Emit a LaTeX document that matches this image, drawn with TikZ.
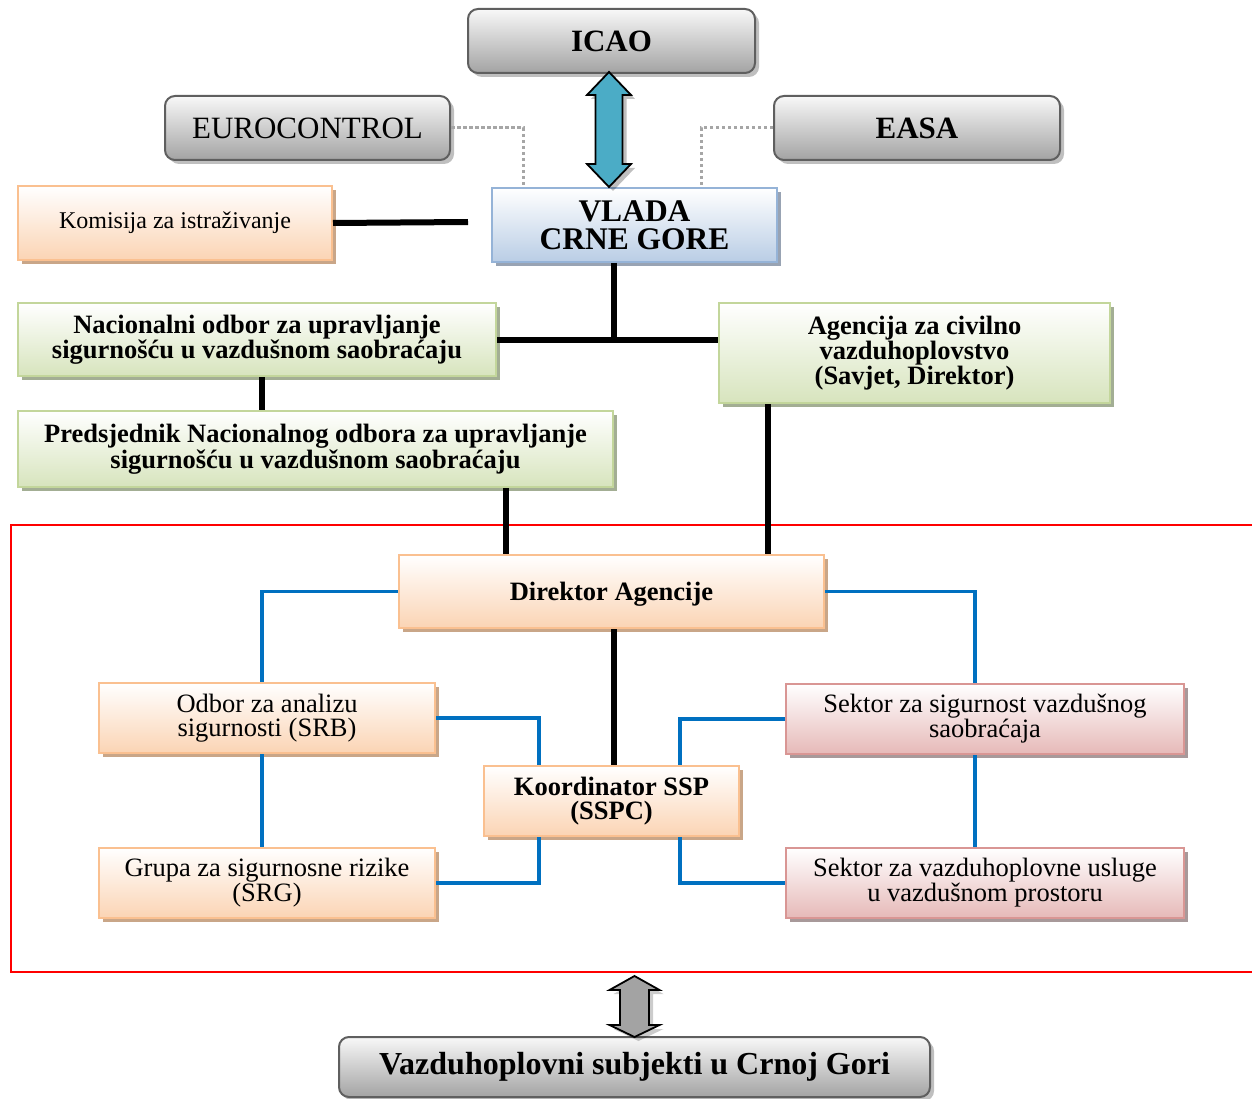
\documentclass[tikz,border=0pt]{standalone}
\usepackage{fontspec}
\setmainfont{Liberation Serif}
\usetikzlibrary{shadows,calc}
\definecolor{orF}{HTML}{FBD4B4}
\definecolor{orB}{HTML}{FAC090}
\definecolor{orS}{HTML}{C9A688}
\definecolor{grF}{HTML}{D7E4BD}
\definecolor{grB}{HTML}{C3D69B}
\definecolor{grS}{HTML}{A3AE94}
\definecolor{blF}{HTML}{B9CDE5}
\definecolor{blB}{HTML}{95B3D7}
\definecolor{blS}{HTML}{98A3B3}
\definecolor{pkF}{HTML}{E6B9B8}
\definecolor{pkB}{HTML}{D99694}
\definecolor{pkS}{HTML}{A8999A}
\definecolor{gyF}{HTML}{A3A3A3}
\definecolor{gyT}{HTML}{F8F8F8}
\definecolor{gyB}{HTML}{5F5F5F}
\definecolor{lnBlue}{HTML}{0070C0}
\definecolor{arBlue}{HTML}{4BACC6}
\definecolor{dotGray}{HTML}{A6A6A6}
\definecolor{frameRed}{HTML}{FF0000}
\tikzset{
  box/.style={line width=2pt, inner sep=0pt, align=center, top color=white},
  orbox/.style={box, draw=orB, bottom color=orF,
    drop shadow={shadow xshift=4pt, shadow yshift=-4pt, fill=orS, opacity=1}},
  grbox/.style={box, draw=grB, bottom color=grF,
    drop shadow={shadow xshift=4pt, shadow yshift=-4pt, fill=grS, opacity=1}},
  blbox/.style={box, draw=blB, bottom color=blF,
    drop shadow={shadow xshift=4pt, shadow yshift=-4pt, fill=blS, opacity=1}},
  pkbox/.style={box, draw=pkB, bottom color=pkF,
    drop shadow={shadow xshift=4pt, shadow yshift=-4pt, fill=pkS, opacity=1}},
  gybox/.style={line width=2pt, inner sep=0pt, align=center, rounded corners=10pt,
    draw=gyB, top color=gyT, bottom color=gyF,
    drop shadow={shadow xshift=4pt, shadow yshift=-4pt, fill=black, opacity=.25}},
  reg/.style={font=\fontsize{26.5}{24}\selectfont},
  bld/.style={font=\fontsize{26.5}{24}\selectfont\bfseries},
  blk/.style={line width=6pt},
  bl/.style={draw=lnBlue, line width=3.5pt},
  dots/.style={draw=dotGray, line width=3pt, dash pattern=on 3.5pt off 2.5pt},
}
\begin{document}
\begin{tikzpicture}[x=1pt,y=-1pt]
\useasboundingbox (0,0) rectangle (1252,1099);
% red frame
\draw[frameRed, line width=2pt] (1256,525) -- (11,525) -- (11,972) -- (1256,972);

% helper x positions
\coordinate (x262) at (262,0);
\coordinate (x506) at (506,0);
\coordinate (x523) at (523,0);
\coordinate (x539) at (539,0);
\coordinate (x614) at (614,0);
\coordinate (x680) at (680,0);
\coordinate (x701) at (701,0);
\coordinate (x768) at (768,0);
\coordinate (x975) at (975,0);

% top nodes
\node[gybox, minimum width=287, minimum height=64, font=\fontsize{31}{30}\selectfont\bfseries] (icao) at (611.5,41) {ICAO};
\node[gybox, minimum width=285, minimum height=64, font=\fontsize{31}{30}\selectfont] (euro) at (307.5,128) {EUROCONTROL};
\node[gybox, minimum width=286, minimum height=64, font=\fontsize{31}{30}\selectfont\bfseries] (easa) at (917,128) {EASA};
\node[blbox, minimum width=285, minimum height=74, font=\fontsize{31.5}{28}\selectfont\bfseries] (vlada) at (634.5,225) {VLADA\\CRNE GORE};
\node[orbox, minimum width=314, minimum height=74, font=\fontsize{24}{26}\selectfont] (kom) at (175,223) {Komisija za istraživanje};
\coordinate (komend) at (468,222);

\node[grbox, bld, minimum width=478, minimum height=73] (nac) at (257,339.5) {Nacionalni odbor za upravljanje\\sigurnošću u vazdušnom saobraćaju};
\node[grbox, bld, minimum width=391, minimum height=100] (agen) at (914.5,353) {Agencija za civilno\\vazduhoplovstvo\\(Savjet, Direktor)};
\node[grbox, bld, minimum width=595, minimum height=76] (pred) at (315.5,449) {Predsjednik Nacionalnog odbora za upravljanje\\sigurnošću u vazdušnom saobraćaju};

\node[orbox, bld, minimum width=425, minimum height=73, text depth=0pt] (dir) at (611.5,591.5) {Direktor Agencije};
\node[orbox, reg, minimum width=336, minimum height=70] (odbor) at (267,718) {Odbor za analizu\\sigurnosti (SRB)};
\node[orbox, reg, minimum width=336, minimum height=70] (grupa) at (267,883) {Grupa za sigurnosne rizike\\(SRG)};
\node[orbox, bld, minimum width=255, minimum height=70] (koor) at (611.5,801) {Koordinator SSP\\(SSPC)};
\node[pkbox, reg, minimum width=398, minimum height=70] (sek1) at (985,719) {Sektor za sigurnost vazdušnog\\saobraćaja};
\node[pkbox, reg, minimum width=398, minimum height=70] (sek2) at (985,883) {Sektor za vazduhoplovne usluge\\u vazdušnom prostoru};

\node[gybox, minimum width=591, minimum height=60, font=\fontsize{32}{30}\selectfont\bfseries] (subj) at (634.5,1067) {Vazduhoplovni subjekti u Crnoj Gori};

% dotted links
\draw[dots] (euro.east) -| (vlada.north -| x523);
\draw[dots] (easa.west) -| (vlada.north -| x701);

% black connectors
\draw[blk] (kom.east) -- (komend);
\draw[blk] (vlada.south -| x614) -- (x614 |- nac.east);
\draw[blk] (nac.east) -- (nac.east -| agen.west);
\draw[blk] (nac.south -| x262) -- (pred.north -| x262);
\draw[blk] (pred.south -| x506) -- (dir.north -| x506);
\draw[blk] (agen.south -| x768) -- (dir.north -| x768);
\draw[blk] (dir.south -| x614) -- (koor.north -| x614);

% blue connectors
\draw[bl] (dir.west) -| (odbor.north -| x262);
\draw[bl] (dir.east) -| (sek1.north -| x975);
\draw[bl] (odbor.east) -| (koor.north -| x539);
\draw[bl] (odbor.south -| x262) -- (grupa.north -| x262);
\draw[bl] (koor.south -| x539) |- (grupa.east);
\draw[bl] (sek1.west) -| (koor.north -| x680);
\draw[bl] (koor.south -| x680) |- (sek2.west);
\draw[bl] (sek1.south -| x975) -- (sek2.north -| x975);

% blue double arrow ICAO <-> VLADA
\fill[black, opacity=.25] (613,76) -- (635,99) -- (626.5,99) -- (626.5,168) -- (635,168) -- (613,191) -- (591,168) -- (599.5,168) -- (599.5,99) -- (591,99) -- cycle;
\draw[fill=arBlue, line width=1.8pt, line join=miter] (609,72) -- (631,95) -- (622.5,95) -- (622.5,164) -- (631,164) -- (609,187) -- (587,164) -- (595.5,164) -- (595.5,95) -- (587,95) -- cycle;

% gray double arrow to subjects
\fill[black, opacity=.2] (638.5,980) -- (663.5,994) -- (653,994) -- (653,1029) -- (663.5,1029) -- (638.5,1041) -- (613.5,1029) -- (624,1029) -- (624,994) -- (613.5,994) -- cycle;
\draw[fill=gyF, line width=1.8pt, line join=miter] (634.5,976) -- (659.5,990) -- (649,990) -- (649,1025) -- (659.5,1025) -- (634.5,1037) -- (609.5,1025) -- (620,1025) -- (620,990) -- (609.5,990) -- cycle;
\end{tikzpicture}
\end{document}
